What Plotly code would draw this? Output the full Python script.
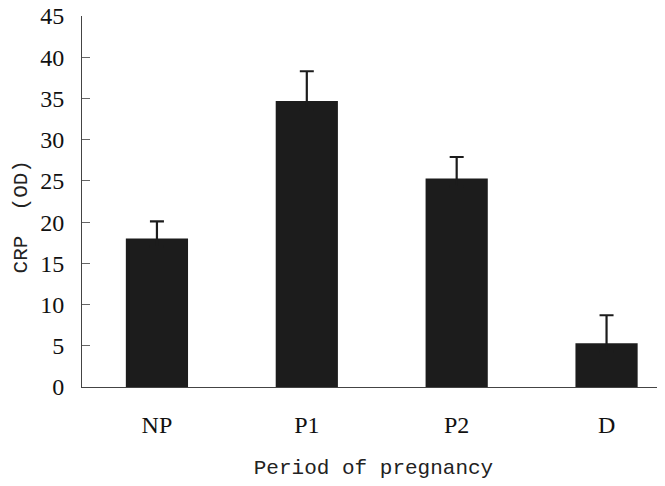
import plotly.graph_objects as go

categories = ["NP", "P1", "P2", "D"]
crp_mean = [18.0, 34.7, 25.3, 5.3]
crp_err_upper = [2.1, 3.6, 2.6, 3.4]
y_ticks = [0, 5, 10, 15, 20, 25, 30, 35, 40, 45]

fig = go.Figure()
fig.add_trace(go.Bar(
    x=categories,
    y=crp_mean,
    width=0.415,
    marker=dict(color="#1c1c1c", line=dict(width=0)),
    error_y=dict(
        type="data",
        symmetric=False,
        array=crp_err_upper,
        arrayminus=[1.0] * len(crp_err_upper),
        color="#1c1c1c",
        thickness=2.2,
        width=7,
    ),
    showlegend=False,
))

fig.update_layout(
    width=657,
    height=478,
    margin=dict(l=74, r=0, t=8, b=99),
    paper_bgcolor="white",
    plot_bgcolor="white",
)

fig.update_xaxes(
    range=[-0.5, 3.39],
    automargin=False,
    showline=True,
    linecolor="#444444",
    linewidth=1,
    ticks="",
    showgrid=False,
    zeroline=False,
    tickfont=dict(family="Liberation Serif", size=24, color="#111111"),
    ticklabelstandoff=16,
    title=dict(
        text="Period of pregnancy",
        font=dict(family="Liberation Mono", size=21, color="#222222"),
        standoff=22,
    ),
)

fig.update_yaxes(
    range=[0, 45],
    automargin=False,
    tickvals=y_ticks,
    ticktext=[str(v) for v in y_ticks],
    showline=True,
    linecolor="#444444",
    linewidth=1,
    ticks="inside",
    ticklen=8,
    tickcolor="#666666",
    tickwidth=1,
    showgrid=False,
    zeroline=False,
    tickfont=dict(family="Liberation Serif", size=24, color="#111111"),
    ticklabelstandoff=12,
    ticklabeloverflow="allow",
)

fig.add_annotation(
    text="CRP  (OD)",
    textangle=-90,
    xref="paper", yref="paper",
    x=-0.104, y=0.458,
    xanchor="center", yanchor="middle",
    showarrow=False,
    font=dict(family="Liberation Mono", size=21, color="#222222"),
)

fig.write_html("out.html")
